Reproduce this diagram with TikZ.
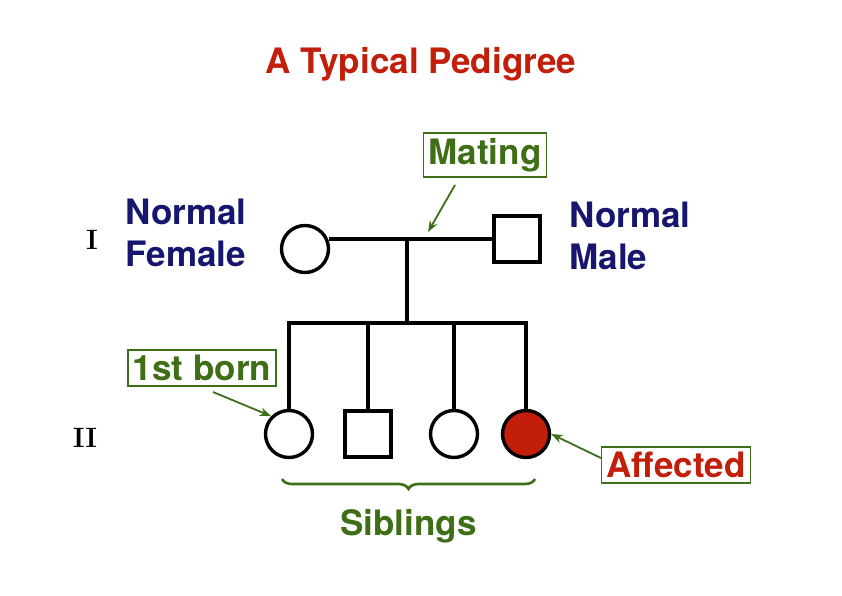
\documentclass[tikz,border=0pt]{standalone}
\usepackage{fontspec}
\setsansfont{TeX Gyre Heros}
\usetikzlibrary{positioning,arrows.meta,decorations.pathreplacing}
\definecolor{navy}{RGB}{22,22,110}
\definecolor{leaf}{RGB}{62,110,22}
\definecolor{brick}{RGB}{195,30,10}
\tikzset{
	person/.style={line width=3.4pt},
	female/.style={person,circle,draw,minimum size=47pt,inner sep=0pt},
	male/.style={person,rectangle,draw,minimum size=46pt,inner sep=0pt},
	note/.style={draw=leaf,line width=1.4pt,text=leaf,font=\sffamily\bfseries\fontsize{35}{38}\selectfont,inner sep=5pt},
	side/.style={text=navy,font=\sffamily\bfseries\fontsize{35}{42}\selectfont,align=left},
	gen/.style={font=\rmfamily\bfseries\fontsize{28}{30}\selectfont},
	pointer/.style={leaf,line width=1.8pt,-{Stealth[length=4mm]}}
}
\begin{document}
\begin{tikzpicture}[x=1pt,y=1pt]
	\useasboundingbox (0,0) rectangle (842,595);
	\node [text=brick,font=\sffamily\bfseries\fontsize{35}{38}\selectfont](title) at (421,531) {A Typical Pedigree};
	% generation I
	\node [female](mom) at (305,346) {};
	\node [male](dad) at (517,356) {};
	\draw [person] (329,356) -- (dad.west);
	\coordinate (drop) at (407,272);
	\draw [person] (407,356) -- (drop);
	\draw [person] (287,272) -- (528,272);
	% generation II
	\node [female](kid_a) at (289,161) {};
	\node [male](kid_b) at (368,161) {};
	\node [female](kid_c) at (454,161) {};
	\node [female,fill=brick](kid_d) at (526,161) {};
	\foreach \k in {kid_a,kid_b,kid_c,kid_d}
		\draw [person] (\k.north) -- (\k.north |- drop);
	% labels
	\node [side](female_lbl) at (186,362) {Normal\\Female};
	\node [side](male_lbl) at (630,359) {Normal\\Male};
	\node [gen](g_one) at (92,355) {I};
	\node [gen](g_two) at (85,157) {II};
	\node [note](mating) at (485,440) {Mating};
	\draw [pointer] (455,410) -- (428,363);
	\node [note](first) at (202,227) {1st born};
	\draw [pointer] (213,203) -- (kid_a.north west);
	\node [note,text=brick](affected) at (676,130) {Affected};
	\draw [pointer] (affected.west) ++(0,7) -- (kid_d.east);
	\draw [leaf,line width=2.6pt,decorate,decoration={brace,mirror,amplitude=10pt}] (282,116) -- (535,116) node [midway,below=26pt,text=leaf,font=\sffamily\bfseries\fontsize{35}{38}\selectfont](sibs) {Siblings};
\end{tikzpicture}
\end{document}
